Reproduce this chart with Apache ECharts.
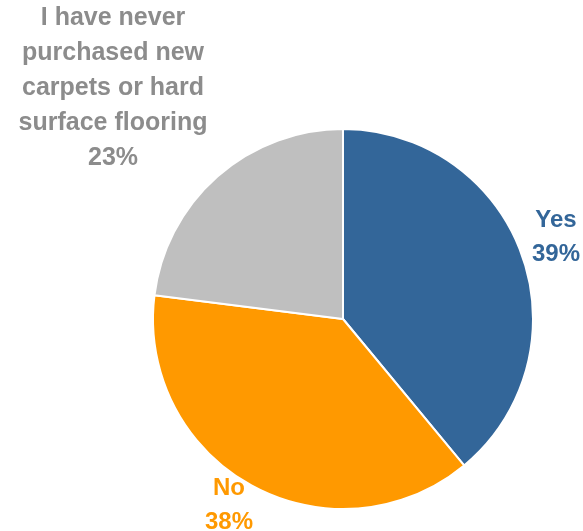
<!DOCTYPE html>
<html>
<head>
<meta charset="utf-8">
<script src="https://cdn.jsdelivr.net/npm/echarts@6/dist/echarts.min.js"></script>
<style>
  html, body { margin: 0; padding: 0; background: #fff; }
  #chart { width: 583px; height: 531px; }
</style>
</head>
<body>
<div id="chart"></div>
<script>
// Survey answers and their shares (percent)
const categories = ['Yes', 'No', 'I have never\npurchased new\ncarpets or hard\nsurface flooring'];
const shares = [39, 38, 23];
const sliceColors = ['#336699', '#FF9900', '#BFBFBF'];
const labelColors = ['#336699', '#FF9900', '#8C8C8C'];
// label anchor points (px) for each slice
const labelSpots = [[556, 237], [229, 505], [113, 88]];

const chart = echarts.init(document.getElementById('chart'), null, { renderer: 'canvas' });

chart.setOption({
  animation: false,
  series: [{
    type: 'pie',
    center: [343, 319],
    radius: 190,
    startAngle: 90,
    clockwise: true,
    avoidLabelOverlap: false,
    itemStyle: { borderColor: '#ffffff', borderWidth: 2 },
    label: {
      show: true,
      position: 'outside',
      formatter: p => p.name + '\n' + p.value + '%',
      fontFamily: 'Liberation Sans, Arial, sans-serif',
      fontWeight: 'bold',
      fontSize: 24,
      lineHeight: 34,
      align: 'center'
    },
    labelLine: { show: false },
    labelLayout: params => ({
      x: labelSpots[params.dataIndex][0],
      y: labelSpots[params.dataIndex][1],
      align: 'center',
      verticalAlign: 'middle'
    }),
    data: categories.map((c, i) => ({
      name: c,
      value: shares[i],
      itemStyle: { color: sliceColors[i] },
      label: i === 2
        ? { color: labelColors[i], fontSize: 25, lineHeight: 35 }
        : { color: labelColors[i] }
    }))
  }]
});
</script>
</body>
</html>
